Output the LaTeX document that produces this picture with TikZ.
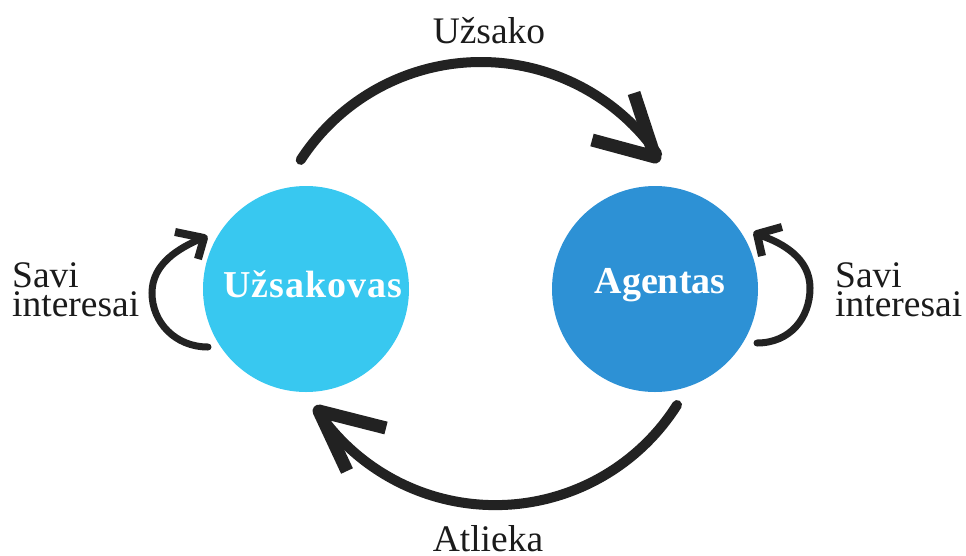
\documentclass[tikz,border=0pt]{standalone}
\usepackage{fontspec}
\setmainfont{Liberation Serif}
\definecolor{custblue}{HTML}{38C8F0}
\definecolor{agentblue}{HTML}{2D91D5}
\definecolor{ink}{HTML}{222222}
\begin{document}
\begin{tikzpicture}[x=1pt,y=1pt,
  party/.style={circle,minimum size=206pt,inner sep=0pt},
  partytext/.style={inner sep=0pt,text=white,font=\fontsize{38}{40}\selectfont\bfseries},
  lbl/.style={inner sep=0pt,text=ink!80!black,font=\fontsize{37.5}{29}\selectfont},
  bigarc/.style={draw=ink,line width=10pt,line cap=round},
  bighead/.style={draw=ink,line width=13pt,line join=round,line cap=butt},
  smallarc/.style={draw=ink,line width=7pt,line cap=round},
  smallhead/.style={draw=ink,line width=8pt,line join=round,line cap=butt}]
\useasboundingbox (0,-555) rectangle (966,0);
\node[party,fill=custblue] (cust) at (306,-289) {};
\node[party,fill=agentblue] (agent) at (655,-289) {};
\node[partytext,anchor=base] (custtxt) at (312.5,-297) {\addfontfeature{LetterSpace=2.5}Užsakovas};
\node[partytext,anchor=base] (agenttxt) at (660,-293) {Agentas};
% top arc
\coordinate (ts) at (300.7,-159.9);
\coordinate (tt) at (655,-157);
\coordinate (ta1) at (634,-93);
\coordinate (ta2) at (592,-140);
\draw[bigarc] (ts) arc[start angle=147,end angle=35,radius=215];
\draw[bighead] (ta1) -- (tt) -- (ta2);
\node[lbl,anchor=base] (lt) at (489,-43) {Užsako};
% bottom arc
\coordinate (bs) at (677,-405);
\coordinate (bt) at (319,-411);
\coordinate (ba1) at (386,-428);
\coordinate (ba2) at (347,-471);
\draw[bigarc] (bs) arc[start angle=-32.3,end angle=-145,radius=215];
\draw[bighead] (ba1) -- (bt) -- (ba2);
\node[lbl,anchor=base] (lb) at (488,-551) {Atlieka};
% left self loop
\coordinate (ls) at (208,-347);
\coordinate (lm) at (152,-293);
\coordinate (le) at (200,-239);
\coordinate (lt2) at (204,-238);
\coordinate (la1) at (175,-232);
\coordinate (la2) at (198,-259);
\draw[smallarc] (ls) .. controls (175,-347) and (152,-322) .. (lm) .. controls (152,-263) and (180,-248) .. (le);
\draw[smallhead] (la1) -- (lt2) -- (la2);
\node[lbl,anchor=base west,align=left] (ll) at (12,-316) {Savi\\interesai};
% right self loop
\coordinate (rs) at (757,-343);
\coordinate (rm) at (810,-288);
\coordinate (re) at (762,-236);
\coordinate (rt) at (757,-234);
\coordinate (ra1) at (782,-227);
\coordinate (ra2) at (762,-256);
\draw[smallarc] (rs) .. controls (790,-343) and (810,-318) .. (rm) .. controls (810,-258) and (782,-243) .. (re);
\draw[smallhead] (ra1) -- (rt) -- (ra2);
\node[lbl,anchor=base west,align=left] (lr) at (835,-316) {Savi\\interesai};
\end{tikzpicture}
\end{document}
